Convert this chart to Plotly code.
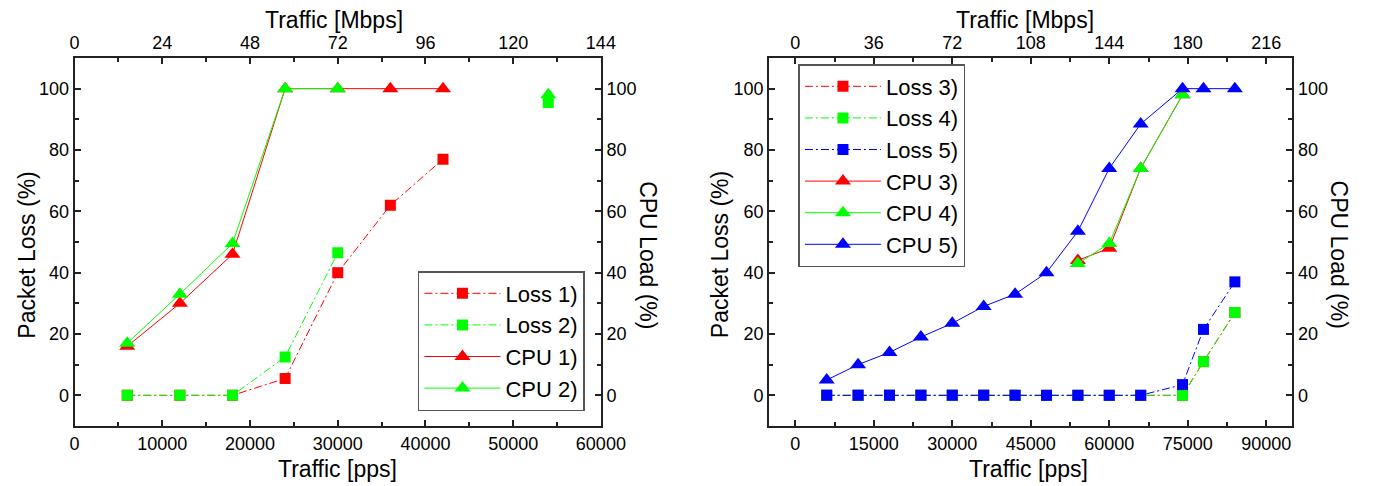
import plotly.graph_objects as go

# ---------------- data ----------------
# Left panel
left_x = [6000, 12000, 18000, 24000, 30000, 36000, 42000, 48000, 54000]
loss1 = [0, 0, 0, 5.5, 40, 62, 77, None, None]
loss2 = [0, 0, 0, 12.5, 46.5, None, None, None, 95.5]
cpu1 = [16, 30, 46, 100, 100, 100, 100, None, None]
cpu2 = [17, 33, 49.5, 100, 100, None, None, None, 98]

# Right panel
right_x = [6000, 12000, 18000, 24000, 30000, 36000, 42000, 48000, 54000,
           60000, 66000, 74000, 78000, 84000]
loss3 = [0, 0, 0, 0, 0, 0, 0, 0, 0, 0, 0, 0, 11, 27]
loss4 = [0, 0, 0, 0, 0, 0, 0, 0, 0, 0, 0, 0, 11, 27]
loss5 = [0, 0, 0, 0, 0, 0, 0, 0, 0, 0, 0, 3.5, 21.5, 37]
cpu3 = [None] * 8 + [44, 48, 74, 98, None, None]
cpu4 = [None] * 8 + [43, 49.5, 74, 98, None, None]
cpu5 = [5, 10, 14, 19, 23.5, 29, 33, 40, 53.5, 74, 88.5, 100, 100, 100]

left_names = ["Loss 1)", "Loss 2)", "CPU 1)", "CPU 2)"]
right_names = ["Loss 3)", "Loss 4)", "Loss 5)", "CPU 3)", "CPU 4)", "CPU 5)"]

y_ticks = [0, 20, 40, 60, 80, 100]
left_pps_ticks = [0, 10000, 20000, 30000, 40000, 50000, 60000]
left_mbps_ticks = [0, 24, 48, 72, 96, 120, 144]
right_pps_ticks = [0, 15000, 30000, 45000, 60000, 75000, 90000]
right_mbps_ticks = [0, 36, 72, 108, 144, 180, 216]
MBPS_PER_PPS = 0.0024  # 300-byte packets

RED, GREEN, BLUE = "#FF0000", "#00FF00", "#0000FF"
FONT = "Liberation Sans, Arial, sans-serif"
DASH = "8px,3px,2px,3px"

# page has an 8px body margin: figure placed at (8, 8)
OFF = 8
W, H = 1382 - OFF, 486 - OFF
T, B = 58 - OFF, 486 - 426
PH = H - T - B


def px(x):
    return (x - OFF) / W


def py(y):
    return (H - B - (y - OFF)) / PH


fig = go.Figure()


def loss_trace(x, y, name, color, xa, ya, leg):
    return go.Scatter(x=x, y=y, name=name, mode="lines+markers",
                      line=dict(color=color, width=1, dash=DASH),
                      marker=dict(symbol="square", size=11, color=color),
                      xaxis=xa, yaxis=ya, legend=leg)


def cpu_trace(x, y, name, color, xa, ya, leg):
    return go.Scatter(x=x, y=y, name=name, mode="lines+markers",
                      line=dict(color=color, width=1),
                      marker=dict(symbol="triangle-up", size=14, color=color),
                      xaxis=xa, yaxis=ya, legend=leg)


def mbps_anchor(x, y, xa, ya):
    # invisible companion so the top Mbps axis is drawn
    return go.Scatter(x=[v * MBPS_PER_PPS for v in x], y=y, mode="markers",
                      marker=dict(opacity=0), showlegend=False, hoverinfo="skip",
                      xaxis=xa, yaxis=ya)


fig.add_trace(mbps_anchor(left_x, cpu1, "x2", "y"))
fig.add_trace(mbps_anchor(right_x, cpu5, "x4", "y3"))

fig.add_trace(loss_trace(left_x, loss1, left_names[0], RED, "x", "y", "legend"))
fig.add_trace(loss_trace(left_x, loss2, left_names[1], GREEN, "x", "y", "legend"))
fig.add_trace(cpu_trace(left_x, cpu1, left_names[2], RED, "x", "y2", "legend"))
fig.add_trace(cpu_trace(left_x, cpu2, left_names[3], GREEN, "x", "y2", "legend"))

fig.add_trace(loss_trace(right_x, loss3, right_names[0], RED, "x3", "y3", "legend2"))
fig.add_trace(loss_trace(right_x, loss4, right_names[1], GREEN, "x3", "y3", "legend2"))
fig.add_trace(loss_trace(right_x, loss5, right_names[2], BLUE, "x3", "y3", "legend2"))
fig.add_trace(cpu_trace(right_x, cpu3, right_names[3], RED, "x3", "y4", "legend2"))
fig.add_trace(cpu_trace(right_x, cpu4, right_names[4], GREEN, "x3", "y4", "legend2"))
fig.add_trace(cpu_trace(right_x, cpu5, right_names[5], BLUE, "x3", "y4", "legend2"))

dom_l = [px(71), px(609)]
dom_r = [px(781), px(1316)]

common = dict(showline=True, linewidth=2, linecolor="#222222", ticks="inside",
              ticklen=6, tickwidth=1.5, tickcolor="#222222", showgrid=False,
              zeroline=False, tickfont=dict(size=18, color="black", family=FONT))


def minor(d):
    return dict(dtick=d, ticks="inside", ticklen=4, tickwidth=1.5,
                tickcolor="#222222", showgrid=False)


legend_common = dict(xanchor="left", yanchor="top", bgcolor="white",
                     bordercolor="#555555", borderwidth=1.5,
                     font=dict(size=22, family=FONT, color="black"),
                     itemwidth=76, tracegroupgap=0)

fig.update_layout(
    xaxis=dict(domain=dom_l, range=[0, 60000], anchor="y", tickvals=left_pps_ticks,
               ticktext=[str(v) for v in left_pps_ticks], minor=minor(5000), **common),
    xaxis2=dict(domain=dom_l, range=[0, 144], anchor="y", overlaying="x", side="top",
                tickvals=left_mbps_ticks, minor=minor(12), **common),
    yaxis=dict(domain=[0, 1], range=[-10, 110], anchor="x", tickvals=y_ticks,
               minor=minor(10), **common),
    yaxis2=dict(range=[-10, 110], anchor="x", overlaying="y", side="right",
                tickvals=y_ticks, minor=minor(10), **common),
    xaxis3=dict(domain=dom_r, range=[-5000, 95000], anchor="y3", tickvals=right_pps_ticks,
                ticktext=[str(v) for v in right_pps_ticks], minor=minor(7500), **common),
    xaxis4=dict(domain=dom_r, range=[-12, 228], anchor="y3", overlaying="x3", side="top",
                tickvals=right_mbps_ticks, minor=minor(18), **common),
    yaxis3=dict(domain=[0, 1], range=[-10, 110], anchor="x3", tickvals=y_ticks,
                minor=minor(10), **common),
    yaxis4=dict(range=[-10, 110], anchor="x3", overlaying="y3", side="right",
                tickvals=y_ticks, minor=minor(10), **common),
    legend=dict(x=px(422), y=py(271), **legend_common),
    legend2=dict(x=px(811), y=py(64), **legend_common),
    width=W, height=H,
    margin=dict(l=0, r=0, t=T, b=B),
    paper_bgcolor="white", plot_bgcolor="white",
    font=dict(family=FONT, color="black"),
    showlegend=True,
)

title_font = dict(size=23, family=FONT, color="black")
annots = [
    ("Traffic [pps]", px(340), py(469), 0),
    ("Traffic [Mbps]", px(336), py(20), 0),
    ("Packet Loss (%)", px(22), py(255), -90),
    ("CPU Load (%)", px(657), py(255), 90),
    ("Traffic [pps]", px(1046), py(469), 0),
    ("Traffic [Mbps]", px(1043), py(20), 0),
    ("Packet Loss (%)", px(731), py(255), -90),
    ("CPU Load (%)", px(1364), py(255), 90),
]
for text, x, y, ang in annots:
    fig.add_annotation(text=text, x=x, y=y, xref="paper", yref="paper",
                       xanchor="center", yanchor="middle", showarrow=False,
                       textangle=ang, font=title_font)

fig.write_html("out.html")
